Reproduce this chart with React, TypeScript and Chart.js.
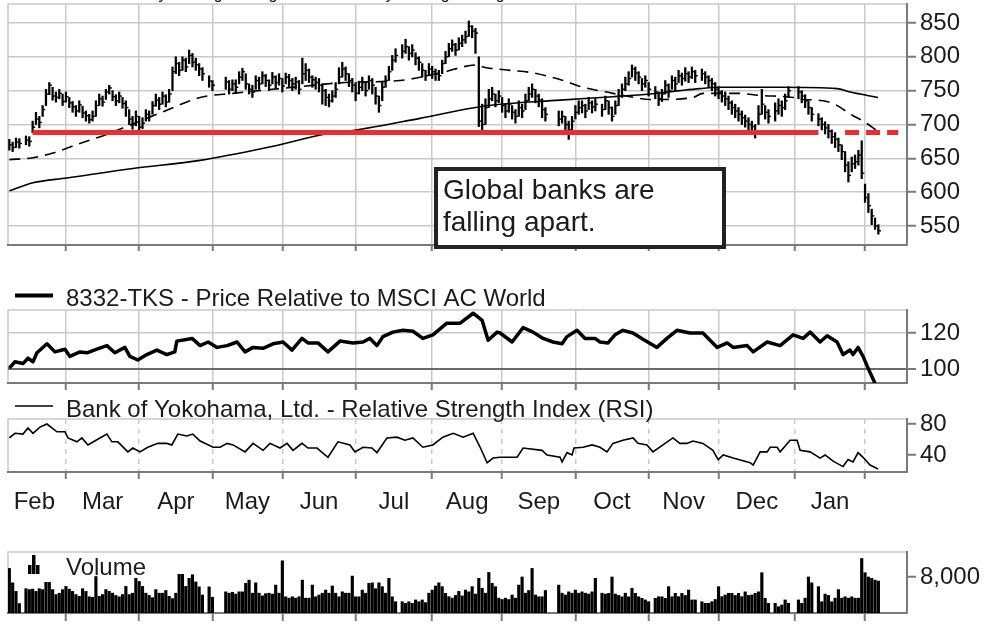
import React, { useEffect, useRef } from "react";
import { Chart, registerables } from "chart.js";

Chart.register(...registerables);

const FONT = '"Liberation Sans", Arial, Helvetica, sans-serif';
const TEXT = "#1b1b1b";
const GRID = "#c9c9c9";
const AXIS = "#7a7a7a";
const RED = "#ee2b2f";
const CLEAR = "rgba(0,0,0,0)";

// x axis = weekday index (w) counted from Mon 2 Feb 2015; holidays are null
const X_MIN = 2.6;
const X_MAX = 272.6;
const FIRST_W = 3;
const MONTH_STARTS = [20, 42, 64, 85, 107, 130, 151, 173, 195, 216, 239, 260];
const MONTH_MIDS = [10.5, 31, 53, 74.5, 96, 118.5, 140.5, 162, 184, 205.5, 227.5, 249.5];
const MONTH_LABELS = ["Feb", "Mar", "Apr", "May", "Jun", "Jul", "Aug", "Sep", "Oct", "Nov", "Dec", "Jan"];

const closes = [
  670,666,674,672,null,677,675,696,708,703,
  722,745,758,742,740,746,734,741,732,726,
  720,729,717,713,707,712,728,738,733,748,
  754,741,735,742,731,725,708,700,712,696,
  702,715,712,728,736,730,742,733,745,778,
  790,780,795,785,802,792,788,782,775,null,
  764,758,null,null,null,763,752,760,755,770,
  778,760,752,748,765,760,772,765,758,770,
  762,768,757,770,765,760,763,752,775,780,
  770,766,762,758,750,740,735,742,752,770,
  782,775,765,758,746,755,762,750,765,758,
  742,728,755,765,778,795,802,null,808,815,
  805,810,798,792,780,772,782,778,775,772,
  790,800,812,818,810,820,825,830,845,838,
  835,705,700,725,738,745,735,742,728,720,
  730,718,712,725,720,735,745,752,742,736,
  722,715,null,null,null,708,712,700,692,705,
  718,725,728,720,732,726,730,null,722,735,
  725,712,728,742,752,760,768,782,776,770,
  760,765,752,null,748,738,745,758,750,765,
  760,772,768,775,770,778,772,null,775,770,
  765,760,752,748,742,738,732,725,720,715,
  710,705,700,697,690,715,730,718,712,null,
  720,728,725,735,750,null,null,748,742,735,
  725,715,null,708,700,695,690,682,678,670,
  660,640,625,642,645,655,628,592,580,565,
  550,543,
];

const highs = [
  678,674,680,679,null,683,682,705,718,712,
  728,752,762,755,748,752,745,748,740,734,
  728,735,727,720,715,720,735,745,742,752,
  758,750,744,748,740,735,722,712,720,712,
  710,722,720,734,745,740,748,744,752,785,
  800,792,800,798,810,805,798,790,784,null,
  772,765,null,null,null,770,765,766,766,778,
  783,775,760,758,772,770,778,774,766,777,
  772,775,768,776,774,768,770,765,798,790,
  782,772,770,768,760,752,745,750,762,784,
  792,785,775,768,762,764,770,762,772,768,
  755,742,762,772,786,802,812,null,818,826,
  815,818,806,800,790,780,790,786,782,780,
  795,808,820,825,820,828,832,838,853,846,
  842,800,730,738,752,755,745,750,740,730,
  738,728,722,735,730,745,755,760,752,745,
  738,725,null,null,null,720,720,712,705,712,
  728,735,735,730,740,735,738,null,730,742,
  735,726,735,752,760,770,778,788,785,778,
  768,772,762,null,756,748,752,765,760,772,
  770,780,776,784,778,785,780,null,782,778,
  772,768,762,756,750,748,742,735,730,725,
  720,714,710,705,700,728,752,728,722,null,
  732,738,735,745,756,null,null,756,750,744,
  735,725,null,716,710,704,700,692,688,680,
  670,660,645,652,655,662,676,612,598,575,
  562,552,
];

const lows = [
  662,660,666,665,null,670,668,688,700,695,
  712,728,744,736,733,738,728,733,725,718,
  712,718,710,705,702,705,712,728,727,737,
  745,735,728,732,724,712,700,693,698,690,
  694,705,705,715,727,722,730,726,733,750,
  775,772,780,778,790,785,780,772,765,null,
  755,750,null,null,null,752,745,750,746,760,
  765,752,745,740,752,752,760,756,750,760,
  754,758,748,760,756,750,752,745,760,765,
  762,755,752,748,730,728,726,733,740,760,
  770,765,756,748,735,745,750,742,752,745,
  730,718,735,755,765,780,792,null,798,805,
  795,800,788,780,770,765,772,768,765,765,
  775,790,800,808,802,810,815,820,830,828,
  805,697,686,700,725,735,726,732,718,710,
  718,708,702,712,710,722,735,740,732,726,
  710,705,null,null,null,698,702,688,678,690,
  708,715,717,710,722,717,720,null,712,722,
  715,705,715,728,740,750,758,770,765,760,
  750,755,742,null,738,728,734,745,740,752,
  750,762,758,764,762,768,762,null,765,760,
  755,750,742,738,733,728,722,715,710,705,
  700,696,690,686,680,700,715,708,702,null,
  705,715,712,722,740,null,null,738,732,725,
  715,705,null,698,692,686,680,672,666,660,
  648,630,615,630,635,640,620,585,570,552,
  545,538,
];

const volumes = [
  9900,6700,4800,2100,null,5400,5200,5300,4800,5400,
  5200,6800,6800,5200,4100,4400,5200,5900,5300,4800,
  4100,3700,5400,4800,3600,3500,8100,3700,4100,5200,
  4800,4400,3900,3600,4100,5900,4100,4400,7700,7000,
  5900,4400,3900,3400,5200,4400,4400,5000,3700,3200,
  4400,8600,8600,5900,7700,8500,6900,5800,4000,null,
  5800,3500,null,null,null,4700,4400,4600,4200,4700,
  4700,6600,7300,4400,6700,4400,3800,4300,4400,4200,
  6200,4400,11600,3600,3300,3600,3300,3600,7300,3300,
  3300,6200,3600,4000,4400,5100,4400,6000,4400,3600,
  4700,4400,4400,8200,3600,3600,5100,4400,6600,6700,
  5400,6700,5850,4400,7700,3600,2500,null,2500,2150,
  2500,2150,2900,2500,2900,2300,4400,5100,6000,6700,
  5850,4370,3630,3300,3900,4800,3800,5100,4700,5850,
  4200,7700,5500,4400,9000,6600,5850,3300,3000,3300,
  3000,4000,3300,6200,8000,4400,5000,9900,4000,3600,
  3600,5000,null,null,null,6200,4400,4000,4700,4400,
  5100,4400,4700,4400,4200,4700,7700,null,4400,4200,
  4370,8000,4200,3900,3600,4400,3600,5500,4370,3600,
  3260,2900,2500,null,3260,3600,3600,3260,5850,3600,
  4370,3630,4370,3900,5100,2900,2900,null,2500,2150,
  2150,2500,3000,5850,3630,4000,4370,4370,3900,4370,
  3630,4700,3900,4000,4370,4700,8950,3260,2150,null,
  2150,1400,1780,2900,2150,null,null,2900,2150,3300,
  8000,6700,null,5850,2500,4200,3900,2500,3300,5200,
  3300,3600,3300,3600,3300,3300,12100,8950,8000,7700,
  7300,7100,
];

const ma50W = [3,10.1,16.1,24.2,33.2,39.2,50.3,60.3,70.2,90.3,103.8,120.3,132.3,143.5,145.3,153.4,159.4,169.3,175.3,184.3,189.4,195.4,198.4,208.3,211.3,221.6,228.5,238.4,241.4,245.6,250.4,256.4,259.4,263.6];
const ma50V = [648,651,658,672,687,699,721,740,746,756,762,765,776,788,785,780,777,765,755,746,741,737,737,740,746,746,743,740,737,736,731,713,705,691];

const ma200W = [3,10.1,20.3,40.1,60.3,80.4,99.3,106.2,126.3,145.3,168.4,184.3,195.4,204.4,210.4,216.5,234.5,251.6,255.5,263.9];
const ma200V = [602,614,621,635,647,666,687,691,709,727,736,741,745,750,753,755,755,753,748,740];

const relW = [3,4.7,7.1,8.6,10.1,11.3,14.3,16.7,19.7,21.2,24.2,26.3,29.3,32.3,34.7,37.7,39.2,41.6,44.3,47.3,50.3,52.7,53.3,57.9,60.3,62.7,65.4,68.4,71.4,73.8,76.2,79.2,82.2,85.2,87.9,90.9,92.7,95.7,98.7,102.3,106.2,109.2,111.3,113.4,115.2,118.2,121.2,124.2,127.2,130.2,134.4,138.4,142.3,145,146.8,149.5,150.4,154,157.3,160.3,163.3,166.3,169,170.5,173.5,175.9,178.9,180.4,182.8,184.9,187.3,190.3,193.3,197.5,200.5,203.5,207.4,211.3,215.6,218.6,220.4,224.6,226.4,230.6,234.5,238.4,241.4,243.5,246.5,248.6,251.6,253.4,255.5,256.4,257.9,259.4,261.5,263];
const relV = [100.5,104,103,106,104,109,114,109.5,111,107,109.5,109,111,113,109,112,107,105,108,110.5,108,109.5,115.5,117,113,115,112,113,115,109.5,112,111.5,114,115,110.5,117,114.5,114.5,109.5,115.5,114.5,115,117,113,118,120.5,121.5,121,117,119,125.5,125.5,131,127,116,120.5,120,115,123,120.5,117,115,114,118,121.5,117,117,115,114.5,119,121.5,120,116.5,112,117,121.5,120,120,112,114.5,112,113,109.5,115,113,119,117,120.5,115,118.5,115,108,110.5,108,112,107,98,92];

const rsiW = [3,4.7,7.1,8.6,10.1,12.2,14.3,17.3,19.7,20.6,23.3,24.8,26.6,30.2,32.3,33.8,35.6,38.6,40.1,42.2,44.6,47.6,50.3,51.8,53.6,56.3,58.1,60.3,64.2,66.3,68.4,70.2,73.8,76.2,79.2,81.3,84.3,86.4,88.2,90.9,92.7,95.4,98.7,101.7,105.3,106.8,109.2,111.9,113.4,116.4,119.4,121.8,124.2,127.2,130.2,133.2,136.3,139.3,142.3,144.4,146.5,148.3,150.4,155.5,157.3,163,164.5,168.4,169,170.5,172,172.6,175.3,178,180.4,182.5,184.3,187.3,190.3,191.8,194.5,196.3,199.3,202.3,204.4,206.5,208.3,211.3,214.3,215.9,217.4,220.4,225.5,226.4,228.5,230.6,231.5,233.6,234.5,237.5,239.6,240.5,243.5,246.5,248,250.4,253.4,254.9,256.4,257.9,259.4,261.5,263.9];
const rsiV = [62,68,67,75,68,76,80,70,70,62,57,62,53,62,67,57,57,44,49,44,50,55,55,53,67,64.5,67,58,50,50,55,53,44,55,46,55,49,55,46,55,49,49,37,57,53,44,50,49,43,62,63,59,62,50,53,63,68,63,68,50,30,36,37,37,49,46,40,37,31,43,40,49,50,53,50,44,55,59,62,55,53,44,53,62,55,55,58,55,46,34,40,36,30,27,44,44,50,50,44,59,59,46,44,36,40,32,25,34,31,43,37,27,22];

const PRICE_TICKS = [550, 600, 650, 700, 750, 800, 850];
const REL_TICKS = [100, 120];
const RSI_TICKS = [40, 80];
const VOL_TICKS = [8000];
const SUPPORT_LEVEL = 688;
const SUPPORT_SOLID_W = [10, 246];
const SUPPORT_DASHED_W = [254, 270];

const pairs = (ws: number[], vs: number[]) => ws.map((w, i) => ({ x: w, y: vs[i] }));
const gridPoints = (arr: (number | null)[]) =>
  arr.map((v, i) => (v == null ? null : { x: FIRST_W + i, y: v })).filter(Boolean) as any[];
const rangePoints = () =>
  highs.map((h, i) => (h == null ? null : { x: FIRST_W + i, y: [lows[i], h] })).filter(Boolean) as any[];

const isStart = (v: number) => MONTH_STARTS.indexOf(v) >= 0;

function xAxis(o: { height: number; grid: boolean; dashed?: boolean; labels?: boolean; tickLen?: number }) {
  const values = o.labels ? [...MONTH_STARTS, ...MONTH_MIDS].sort((a, b) => a - b) : MONTH_STARTS.slice();
  return {
    type: "linear",
    min: X_MIN,
    max: X_MAX,
    offset: false,
    bounds: "data",
    afterBuildTicks: (s: any) => {
      s.ticks = values.map((v) => ({ value: v }));
    },
    afterFit: (s: any) => {
      s.height = o.height;
      s.paddingLeft = 0;
      s.paddingRight = 0;
      s.paddingTop = 0;
      s.paddingBottom = 0;
    },
    grid: {
      offset: false,
      display: true,
      drawOnChartArea: true,
      drawTicks: true,
      color: (c: any) => (o.grid && c.tick && isStart(c.tick.value) ? GRID : CLEAR),
      lineWidth: 1.5,
      tickLength: o.tickLen ?? 7,
      tickColor: (c: any) => (c.tick && isStart(c.tick.value) ? AXIS : CLEAR),
      tickWidth: 2,
    },
    border: { display: true, color: AXIS, width: 2, dash: o.dashed ? [5, 5] : [] },
    ticks: {
      display: !!o.labels,
      autoSkip: false,
      maxRotation: 0,
      minRotation: 0,
      padding: 9,
      color: TEXT,
      font: { family: FONT, size: 24 },
      callback: (v: number) => {
        const k = MONTH_MIDS.indexOf(v);
        return k >= 0 ? MONTH_LABELS[k] : "";
      },
    },
  };
}

function yAxis(min: number, max: number, tickVals: number[], gridColor: any, gridWidth: any = 1.5, fmt: (v: number) => string = (v) => String(v)) {
  return {
    type: "linear",
    position: "right",
    min,
    max,
    bounds: "data",
    afterBuildTicks: (s: any) => {
      s.ticks = tickVals.map((v) => ({ value: v }));
    },
    afterFit: (s: any) => {
      s.width = 80;
      s.paddingTop = 0;
      s.paddingBottom = 0;
      s.paddingLeft = 0;
      s.paddingRight = 0;
    },
    grid: { color: gridColor, lineWidth: gridWidth, drawTicks: true, tickLength: 9, tickColor: AXIS, tickWidth: 2 },
    border: { display: true, color: AXIS, width: 2 },
    ticks: { font: { family: FONT, size: 24 }, color: TEXT, padding: 4, callback: (v: number) => fmt(v) },
  };
}

const framePlugin = {
  id: "frame",
  beforeDraw(chart: any) {
    const { ctx, chartArea: a } = chart;
    ctx.save();
    ctx.strokeStyle = GRID;
    ctx.lineWidth = 1.5;
    ctx.beginPath();
    ctx.moveTo(a.left, a.bottom);
    ctx.lineTo(a.left, a.top);
    ctx.lineTo(a.right, a.top);
    ctx.stroke();
    ctx.restore();
  },
};

const baseOptions = (padTop: number) => ({
  responsive: false,
  animation: false,
  events: [],
  layout: { padding: { left: 8, right: 0, top: padTop, bottom: 0 }, autoPadding: false },
  plugins: { legend: { display: false }, tooltip: { enabled: false }, title: { display: false } },
});

function mainConfig(): any {
  const annot = {
    id: "mainAnnot",
    afterDraw(chart: any) {
      const ctx = chart.ctx;
      ctx.save();
      ctx.fillStyle = TEXT;
      ctx.font = `16px ${FONT}`;
      ctx.textBaseline = "alphabetic";
      ctx.fillText("200 Day Moving Average", 107, -1.5);
      ctx.fillText("50 Day Moving Average", 343, -1.5);
      ctx.fillStyle = "#ffffff";
      ctx.fillRect(436, 169, 288, 78);
      ctx.lineWidth = 4;
      ctx.strokeStyle = "#222222";
      ctx.strokeRect(436, 169, 288, 78);
      ctx.fillStyle = TEXT;
      ctx.font = `28px ${FONT}`;
      ctx.fillText("Global banks are", 443, 199);
      ctx.fillText("falling apart.", 443, 231);
      ctx.restore();
    },
  };
  return {
    type: "bar",
    data: {
      datasets: [
        {
          type: "line",
          data: SUPPORT_SOLID_W.map((w) => ({ x: w, y: SUPPORT_LEVEL })),
          borderColor: RED,
          borderWidth: 5,
          pointRadius: 0,
          order: 0,
        },
        {
          type: "line",
          data: SUPPORT_DASHED_W.map((w) => ({ x: w, y: SUPPORT_LEVEL })),
          borderColor: RED,
          borderWidth: 5,
          borderDash: [14, 7],
          pointRadius: 0,
          order: 0,
        },
        {
          type: "bar",
          data: rangePoints(),
          backgroundColor: "#000000",
          barThickness: 1.6,
          order: 1,
        },
        {
          type: "line",
          data: gridPoints(closes),
          showLine: false,
          pointStyle: "dash",
          pointRadius: 2.6,
          pointBorderWidth: 1.4,
          pointBorderColor: "#000000",
          pointBackgroundColor: "#000000",
          order: 1,
        },
        {
          type: "line",
          data: pairs(ma50W, ma50V),
          borderColor: "#000000",
          borderWidth: 1.6,
          borderDash: [11, 7],
          cubicInterpolationMode: "monotone",
          pointRadius: 0,
          order: 2,
        },
        {
          type: "line",
          data: pairs(ma200W, ma200V),
          borderColor: "#000000",
          borderWidth: 1.6,
          cubicInterpolationMode: "monotone",
          pointRadius: 0,
          order: 2,
        },
      ],
    },
    options: {
      ...baseOptions(4),
      scales: {
        x: xAxis({ height: 17, grid: true, tickLen: 6 }),
        y: yAxis(522, 878, PRICE_TICKS, GRID),
      },
    },
    plugins: [framePlugin, annot],
  };
}

function relConfig(): any {
  const legend = {
    id: "relLegend",
    afterDraw(chart: any) {
      const ctx = chart.ctx;
      ctx.save();
      ctx.strokeStyle = "#000000";
      ctx.lineWidth = 4;
      ctx.beginPath();
      ctx.moveTo(15, 12.5);
      ctx.lineTo(53, 12.5);
      ctx.stroke();
      ctx.fillStyle = TEXT;
      ctx.font = `24px ${FONT}`;
      ctx.fillText("8332-TKS - Price Relative to MSCI AC World", 66, 23);
      ctx.restore();
    },
  };
  return {
    type: "line",
    data: {
      datasets: [
        {
          data: pairs(relW, relV),
          borderColor: "#000000",
          borderWidth: 3.5,
          pointRadius: 0,
          tension: 0,
          borderJoinStyle: "round",
        },
      ],
    },
    options: {
      ...baseOptions(27),
      scales: {
        x: xAxis({ height: 12, grid: true }),
        y: yAxis(92.2, 132.8, REL_TICKS, (c: any) => (c.tick && c.tick.value === 100 ? "#6a6a6a" : GRID), (c: any) => (c.tick && c.tick.value === 100 ? 2 : 1.5)),
      },
    },
    plugins: [framePlugin, legend],
  };
}

function rsiConfig(): any {
  const legend = {
    id: "rsiLegend",
    afterDraw(chart: any) {
      const ctx = chart.ctx;
      ctx.save();
      ctx.strokeStyle = "#000000";
      ctx.lineWidth = 1.6;
      ctx.beginPath();
      ctx.moveTo(15, 11);
      ctx.lineTo(53, 11);
      ctx.stroke();
      ctx.fillStyle = TEXT;
      ctx.font = `24px ${FONT}`;
      ctx.fillText("Bank of Yokohama, Ltd. - Relative Strength Index (RSI)", 66, 21.7);
      ctx.restore();
    },
  };
  return {
    type: "line",
    data: {
      datasets: [
        {
          data: pairs(rsiW, rsiV),
          borderColor: "#000000",
          borderWidth: 1.6,
          pointRadius: 0,
          tension: 0,
        },
      ],
    },
    options: {
      ...baseOptions(24),
      scales: {
        x: xAxis({ height: 48, grid: true, dashed: true, labels: true }),
        y: yAxis(18, 86.5, RSI_TICKS, CLEAR),
      },
    },
    plugins: [framePlugin, legend],
  };
}

function volConfig(): any {
  const legend = {
    id: "volLegend",
    afterDraw(chart: any) {
      const ctx = chart.ctx;
      ctx.save();
      ctx.fillStyle = "#000000";
      ctx.fillRect(28, 25, 3.5, 9);
      ctx.fillRect(32, 15, 3.5, 19);
      ctx.fillRect(36, 25, 3.5, 9);
      ctx.fillStyle = TEXT;
      ctx.font = `24px ${FONT}`;
      ctx.fillText("Volume", 66, 35);
      ctx.restore();
    },
  };
  return {
    type: "bar",
    data: {
      datasets: [
        {
          data: gridPoints(volumes),
          backgroundColor: "#000000",
          barThickness: 2.5,
        },
      ],
    },
    options: {
      ...baseOptions(12),
      scales: {
        x: xAxis({ height: 13, grid: false, tickLen: 8 }),
        y: yAxis(0, 13550, VOL_TICKS, CLEAR, 1.5, (v) => v.toLocaleString("en-US")),
      },
    },
    plugins: [framePlugin, legend],
  };
}

const PANELS = [
  { top: 0, height: 262, make: mainConfig },
  { top: 283, height: 112, make: relConfig },
  { top: 395, height: 125, make: rsiConfig },
  { top: 540, height: 86, make: volConfig },
];

export default function App() {
  const r0 = useRef<HTMLCanvasElement>(null);
  const r1 = useRef<HTMLCanvasElement>(null);
  const r2 = useRef<HTMLCanvasElement>(null);
  const r3 = useRef<HTMLCanvasElement>(null);
  const refs = [r0, r1, r2, r3];

  useEffect(() => {
    Chart.defaults.font.family = FONT;
    const charts = PANELS.map((p, i) => new Chart(refs[i].current as HTMLCanvasElement, p.make()));
    return () => charts.forEach((c) => c.destroy());
  }, []);

  return (
    <div style={{ position: "absolute", left: 0, top: 0, width: 987, height: 626, background: "#ffffff", overflow: "hidden" }}>
      {PANELS.map((p, i) => (
        <canvas
          key={i}
          ref={refs[i]}
          width={987}
          height={p.height}
          style={{ position: "absolute", left: 0, top: p.top, width: 987, height: p.height }}
        />
      ))}
    </div>
  );
}
